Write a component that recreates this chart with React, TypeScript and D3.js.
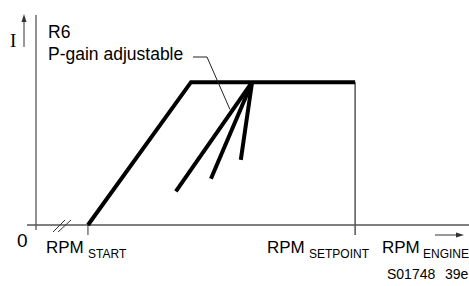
import React from 'react'
import * as d3 from 'd3'

// characteristic: RPM (arbitrary units 0..1000) vs current I (0..100)
const rpmStart = 120
const rpmCorner = 358
const rpmApex = 499
const rpmSetpoint = 737
const iPlateau = 68

// P-gain adjustable fan: end points of the steeper ramps
const fanRpm = [323, 404, 473]
const fanI = [16, 22, 31]

const leaderEnd = { rpm: 448, i: 55 }

const W = 469
const H = 286

export default function App() {
  const x = d3.scaleLinear().domain([0, 1000]).range([36, 469])
  const y = d3.scaleLinear().domain([0, 100]).range([225, 15])

  const line = d3.line<[number, number]>()
    .x((d) => x(d[0]))
    .y((d) => y(d[1]))

  const mainPts: [number, number][] = [
    [rpmStart, 0],
    [rpmCorner, iPlateau],
    [rpmSetpoint, iPlateau],
  ]

  const font = '"Liberation Sans", Arial, Helvetica, sans-serif'
  const axisColor = '#555'

  return (
    <svg
      width={W}
      height={H}
      style={{ position: 'absolute', left: 0, top: 0, background: '#fff' }}
      fontFamily={font}
    >
      {/* axes */}
      <line x1={x(0)} x2={x(0)} y1={15} y2={230} stroke={axisColor} strokeWidth={1.3} />
      <line x1={27} x2={W} y1={y(0)} y2={y(0)} stroke={axisColor} strokeWidth={1.3} />
      {/* axis break */}
      <line x1={53} y1={232} x2={65} y2={220} stroke="#333" strokeWidth={1} />
      <line x1={58} y1={232} x2={71} y2={220} stroke="#333" strokeWidth={1} />
      {/* start tick */}
      <line x1={x(rpmStart)} x2={x(rpmStart)} y1={y(0)} y2={235} stroke="#333" strokeWidth={1} />
      {/* setpoint line */}
      <line x1={x(rpmSetpoint)} x2={x(rpmSetpoint)} y1={y(iPlateau)} y2={235} stroke={axisColor} strokeWidth={1.5} />

      {/* I arrow */}
      <line x1={24} x2={24} y1={19} y2={47} stroke="#333" strokeWidth={1} />
      <path d="M24,14 L21.5,22 L26.5,22 Z" fill="#333" />
      <text x={10} y={47} fontFamily='"Liberation Serif", "Times New Roman", serif' fontSize={19}>I</text>

      {/* RPM engine arrow */}
      <line x1={435} x2={458} y1={235} y2={235} stroke="#333" strokeWidth={1} />
      <path d="M464,235 L456,232.5 L456,237.5 Z" fill="#333" />

      {/* main curve */}
      <path d={line(mainPts) || ''} fill="none" stroke="#000" strokeWidth={4} strokeLinejoin="miter" />
      {/* fan */}
      {fanRpm.map((r, k) => (
        <path
          key={k}
          d={line([[rpmApex, iPlateau], [r, fanI[k]]]) || ''}
          fill="none"
          stroke="#000"
          strokeWidth={4}
        />
      ))}

      {/* leader */}
      <polyline
        points={`193,57 207,57 ${x(leaderEnd.rpm)},${y(leaderEnd.i)}`}
        fill="none"
        stroke="#222"
        strokeWidth={1}
      />

      {/* labels */}
      <text x={48} y={38} fontSize={17.5}>R6</text>
      <text x={48} y={60} fontSize={17.5}>P-gain adjustable</text>
      <text x={17} y={247} fontSize={19}>0</text>

      <text x={46} y={253} fontSize={17}>RPM</text>
      <text x={88} y={258} fontSize={12}>START</text>

      <text x={267} y={253} fontSize={17}>RPM</text>
      <text x={309} y={258} fontSize={12}>SETPOINT</text>

      <text x={382} y={253} fontSize={17}>RPM</text>
      <text x={423} y={258} fontSize={12}>ENGINE</text>

      <text x={387} y={279} fontSize={14}>S01748</text>
      <text x={445} y={279} fontSize={14}>39e</text>
    </svg>
  )
}
